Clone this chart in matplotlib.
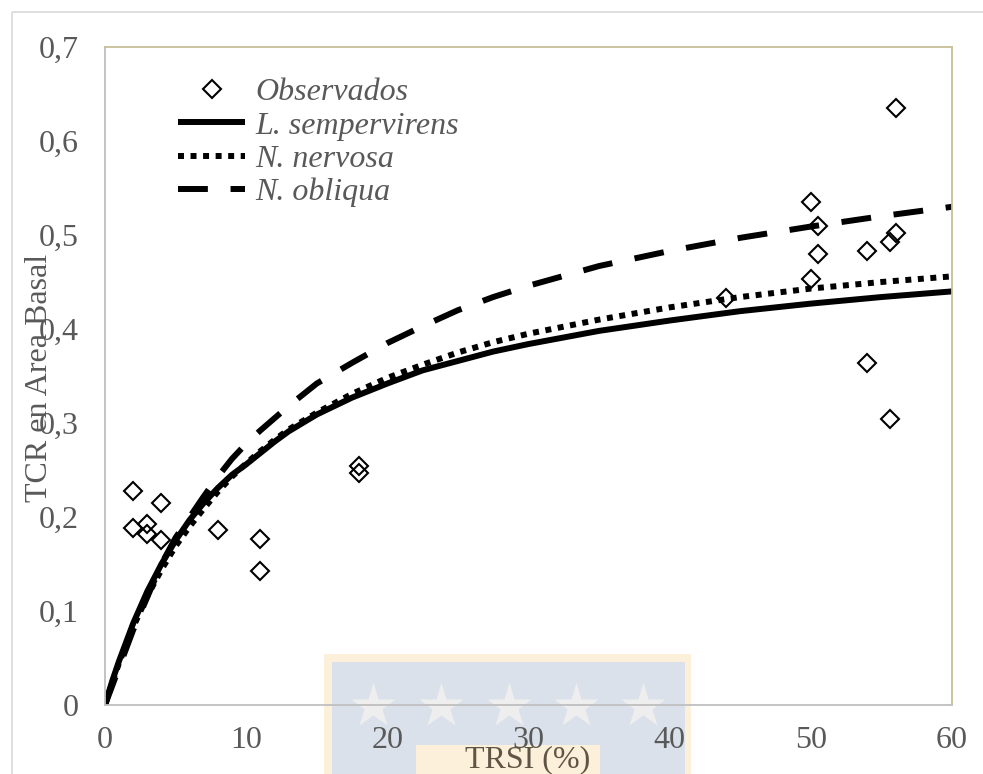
import matplotlib
matplotlib.use("Agg")
import matplotlib.pyplot as plt
from matplotlib.patches import Rectangle

plt.rcParams['font.family'] = ['Liberation Serif', 'DejaVu Serif']

# observed points
obs_x = [2, 2, 3, 3, 4, 4, 8, 11, 11, 18, 18, 44, 50, 50, 50.5, 50.5, 54, 54, 55.6, 55.6, 56, 56]
obs_y = [0.228, 0.188, 0.193, 0.182, 0.215, 0.176, 0.186, 0.177, 0.143, 0.254, 0.247, 0.433,
         0.535, 0.453, 0.510, 0.480, 0.483, 0.364, 0.493, 0.304, 0.635, 0.502]

# fitted curves
curve_x = [0, 0.5, 1, 2, 3, 4, 5, 6, 7, 8, 9, 10, 11, 12, 13, 15, 17.5, 20, 22.5, 25, 27.5,
           30, 35, 40, 45, 50, 55, 60]
semp_y = [0, 0.025, 0.047, 0.087, 0.121, 0.150, 0.175, 0.197, 0.215, 0.231, 0.245, 0.256,
          0.268, 0.280, 0.291, 0.309, 0.327, 0.342, 0.356, 0.366, 0.376, 0.384, 0.398, 0.409,
          0.419, 0.427, 0.434, 0.440]
nerv_y = [0, 0.023, 0.045, 0.083, 0.116, 0.144, 0.169, 0.190, 0.209, 0.227, 0.243, 0.257,
          0.270, 0.282, 0.293, 0.311, 0.331, 0.348, 0.362, 0.375, 0.386, 0.395, 0.410, 0.423,
          0.434, 0.443, 0.450, 0.456]
obli_y = [0, 0.020, 0.040, 0.080, 0.115, 0.150, 0.178, 0.200, 0.222, 0.243, 0.262, 0.278,
          0.292, 0.305, 0.318, 0.342, 0.364, 0.385, 0.403, 0.420, 0.434, 0.446, 0.467, 0.483,
          0.497, 0.509, 0.520, 0.530]

labels = ["Observados", "L. sempervirens", "N. nervosa", "N. obliqua"]
x_ticks = [0, 10, 20, 30, 40, 50, 60]
y_ticks = [0, 0.1, 0.2, 0.3, 0.4, 0.5, 0.6, 0.7]

W, H = 983, 774
FS = 23
fig = plt.figure(figsize=(W / 100, H / 100), dpi=100)
fig.patch.set_facecolor("white")

# background layer in pixel coordinates (chart border + watermark)
bg = fig.add_axes([0, 0, 1, 1], zorder=0)
bg.set_xlim(0, W)
bg.set_ylim(H, 0)
bg.axis("off")
bg.add_patch(Rectangle((12, 12), W, H, fill=False, ec="#d9d9d9", lw=1.2))
bg.add_patch(Rectangle((324, 654), 367, 130, fc="#fdf0da", ec="none"))
bg.add_patch(Rectangle((332, 662), 353, 120, fc="#dae1ea", ec="none"))
bg.add_patch(Rectangle((416, 745), 184, 40, fc="#fdf0da", ec="none"))
bg.plot([373, 441, 509, 576, 643], [706] * 5, ls="none", marker="*", ms=34,
        mfc="#eeeeee", mec="none")

ax = fig.add_axes([105 / W, 1 - 705 / H, 847 / W, 658 / H], zorder=1)
ax.patch.set_alpha(0)

ax.plot(curve_x, semp_y, color="black", lw=4.3, solid_capstyle="butt", label=labels[1])
ax.plot(curve_x, nerv_y, color="black", lw=4.3, ls=(0, (1, 1.1)), dash_capstyle="butt",
        label=labels[2])
ax.plot(curve_x, obli_y, color="black", lw=4.3, ls=(0, (5, 3.8)), dash_capstyle="butt",
        label=labels[3])
ax.plot(obs_x, obs_y, ls="none", marker="D", ms=9.5, mfc="none", mec="black", mew=1.5,
        label=labels[0], zorder=4)

ax.set_xlim(0, 60)
ax.set_ylim(0, 0.7)
ax.set_xticks(x_ticks)
ax.set_yticks(y_ticks)
ax.set_xticklabels([str(v) for v in x_ticks])
ax.set_yticklabels(["0"] + [("%.1f" % v).replace(".", ",") for v in y_ticks[1:]])
ax.tick_params(length=0, labelsize=FS, labelcolor="#595959")
ax.tick_params(axis="y", pad=19)
ax.tick_params(axis="x", pad=15)

for s in ["left", "bottom"]:
    ax.spines[s].set_color("#bfbfbf")
    ax.spines[s].set_linewidth(1.3)
for s in ["top", "right"]:
    ax.spines[s].set_color("#c8bf99")
    ax.spines[s].set_linewidth(1.3)

fig.text(40 / W, 1 - 378 / H, "TCR en Area Basal", rotation=90, ha="center", va="center",
         fontsize=FS, color="#595959")
fig.text(528 / W, 1 - 760 / H, "TRSI (%)", ha="center", va="center", fontsize=FS,
         color="#5e5545")

h, l = ax.get_legend_handles_labels()
order = [3, 0, 1, 2]
leg = fig.legend([h[i] for i in order], [l[i] for i in order], loc="upper left",
                 bbox_to_anchor=(178 / W, 1 - 78 / H), frameon=False,
                 borderpad=0, borderaxespad=0, handlelength=2.1, handletextpad=0.32,
                 labelspacing=0.12, prop={"style": "italic", "size": FS})
for t in leg.get_texts():
    t.set_color("#595959")

fig.savefig("out.png", dpi=100)
